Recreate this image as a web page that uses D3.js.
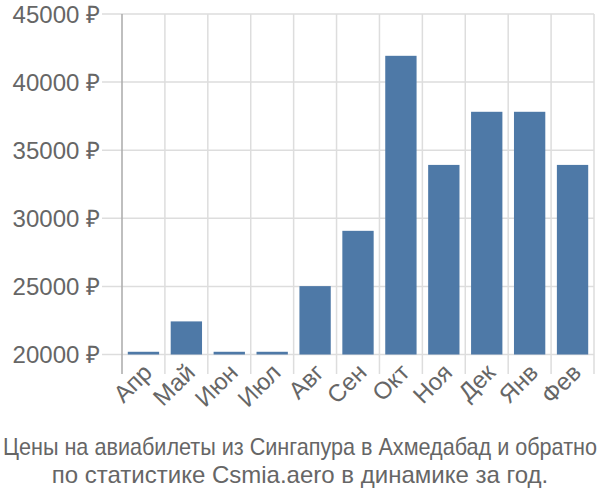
<!DOCTYPE html>
<html>
<head>
<meta charset="utf-8">
<script src="https://cdn.jsdelivr.net/npm/d3@7"></script>
<style>
  body { margin: 0; background: #fff; }
  svg { display: block; font-family: "Liberation Sans", Arimo, sans-serif; }
</style>
</head>
<body>
<svg id="chart" width="600" height="500"></svg>
<script>
const months = ["Апр", "Май", "Июн", "Июл", "Авг", "Сен", "Окт", "Ноя", "Дек", "Янв", "Фев"];
const prices = [20200, 22430, 20200, 20200, 25020, 29080, 41930, 33920, 37820, 37820, 33920];
const yTicks = [20000, 25000, 30000, 35000, 40000, 45000];
const titleLines = [
  "Цены на авиабилеты из Сингапура в Ахмедабад и обратно",
  "по статистике Csmia.aero в динамике за год.",
];

const svg = d3.select("#chart");
const plotLeft = 122, plotRight = 594, plotTop = 14, plotBottom = 354.5;

const x = d3.scaleBand().domain(months).range([plotLeft, plotRight]).paddingInner(0.27).paddingOuter(0.135);
const xGrid = d3.scaleBand().domain(months).range([plotLeft, plotRight]);
const y = d3.scaleLinear().domain([20000, 45000]).range([plotBottom, plotTop]);

// horizontal grid
svg.append("g")
  .selectAll("line")
  .data(yTicks)
  .join("line")
  .attr("x1", 102)
  .attr("x2", plotRight)
  .attr("y1", (d) => y(d))
  .attr("y2", (d) => y(d))
  .attr("stroke", "#dddddd")
  .attr("stroke-width", 1.5);

// vertical grid
svg.append("g")
  .selectAll("line")
  .data(months)
  .join("line")
  .attr("x1", (d) => xGrid(d) + xGrid.step())
  .attr("x2", (d) => xGrid(d) + xGrid.step())
  .attr("y1", plotTop)
  .attr("y2", 374)
  .attr("stroke", "#dddddd")
  .attr("stroke-width", 1.5);

// y axis line
svg.append("line")
  .attr("x1", plotLeft)
  .attr("x2", plotLeft)
  .attr("y1", plotTop)
  .attr("y2", 374)
  .attr("stroke", "#aaaaaa")
  .attr("stroke-width", 1.5);

// y labels
svg.append("g")
  .selectAll("text")
  .data(yTicks)
  .join("text")
  .attr("x", 100)
  .attr("y", (d) => y(d))
  .attr("text-anchor", "end")
  .attr("dominant-baseline", "central")
  .attr("fill", "#666")
  .attr("font-size", 24)
  .text((d) => d + " ₽");

// bars
svg.append("g")
  .selectAll("rect")
  .data(months)
  .join("rect")
  .attr("x", (d) => x(d))
  .attr("width", x.bandwidth())
  .attr("y", (d, i) => y(prices[i]))
  .attr("height", (d, i) => y(20000) - y(prices[i]))
  .attr("fill", "#4e79a7");

// x labels
svg.append("g")
  .selectAll("text")
  .data(months)
  .join("text")
  .attr("transform", (d) => `translate(${x(d) + x.bandwidth() / 2 + 10},${374}) rotate(-45)`)
  .attr("text-anchor", "end")
  .attr("fill", "#666")
  .attr("font-size", 24)
  .text((d) => d);

// title (first line is squeezed to the width in the reference)
svg.append("g")
  .selectAll("text")
  .data(titleLines)
  .join("text")
  .attr("x", 300)
  .attr("y", (d, i) => 455 + i * 28)
  .attr("text-anchor", "middle")
  .attr("fill", "#666")
  .attr("font-size", 24)
  .each(function (d, i) {
    if (i === 0) d3.select(this).attr("textLength", 594).attr("lengthAdjust", "spacingAndGlyphs");
  })
  .text((d) => d);
</script>
</body>
</html>
